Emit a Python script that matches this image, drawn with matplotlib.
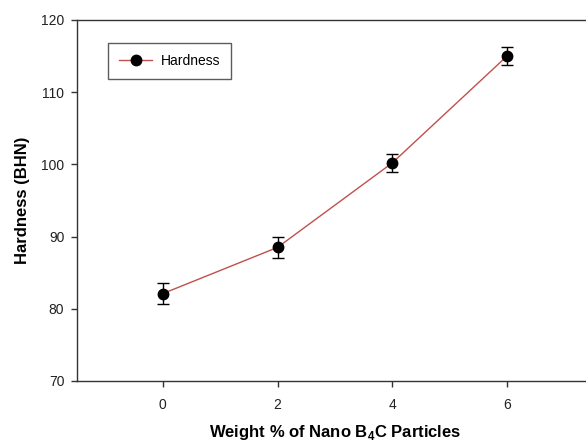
import matplotlib
matplotlib.use("Agg")
import matplotlib.pyplot as plt

# Data
weight_pct = [0, 2, 4, 6]
hardness = [82.1, 88.5, 100.2, 115.0]
hardness_err = [1.5, 1.5, 1.2, 1.2]

plt.rcParams["font.family"] = ["Liberation Sans", "DejaVu Sans"]

fig = plt.figure(figsize=(5.86, 4.44), dpi=100)
ax = fig.add_axes([0.131, 0.142, 0.881, 0.813])

# error bars (no legend entry), then the line with markers
ax.errorbar(
    weight_pct, hardness, yerr=hardness_err,
    fmt="none", ecolor="black", elinewidth=1.0, capsize=4, capthick=1.0,
)
ax.plot(
    weight_pct, hardness,
    color="#c0504d", linewidth=1.0,
    marker="o", markersize=7.5, markerfacecolor="black", markeredgecolor="black",
    label="Hardness",
)

ax.set_xlim(-1.5, 7.5)
ax.set_ylim(70, 120)
ax.set_xticks([0, 2, 4, 6])
ax.set_yticks([70, 80, 90, 100, 110, 120])

for s in ax.spines.values():
    s.set_color("#333333")
    s.set_linewidth(1.0)

ax.tick_params(direction="out", length=4, width=1, colors="#333333",
               labelsize=10, labelcolor="#222222")
ax.tick_params(axis="x", pad=8)
ax.tick_params(axis="y", pad=5)

ax.set_xlabel("Weight % of Nano B$_\\mathregular{4}$C Particles",
              fontsize=12, fontweight="bold", labelpad=8)
ax.set_ylabel("Hardness (BHN)", fontsize=12, fontweight="bold", labelpad=8)

leg = ax.legend(loc="upper left", bbox_to_anchor=(0.06, 0.936),
                borderaxespad=0, fontsize=10, frameon=True, fancybox=False,
                edgecolor="#333333", borderpad=0.8, handlelength=2.4,
                handletextpad=0.6)
leg.get_frame().set_linewidth(1.0)

fig.savefig("out.png", dpi=100)
